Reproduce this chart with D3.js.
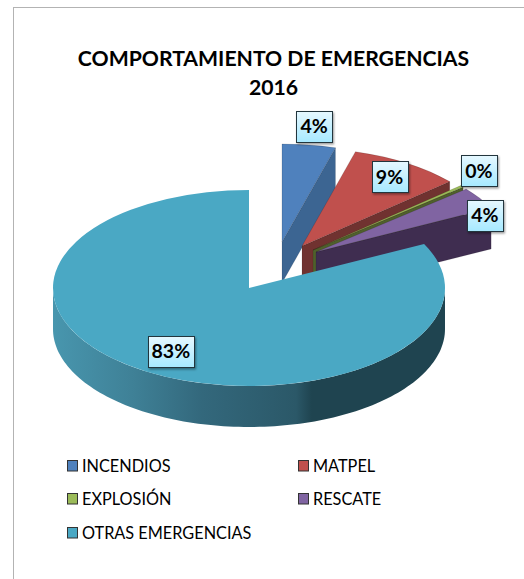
<!DOCTYPE html>
<html><head><meta charset="utf-8">
<script src="https://cdn.jsdelivr.net/npm/d3@7"></script>
<style>html,body{margin:0;padding:0;background:#fff}svg{display:block}text{font-family:Lato,"Open Sans",sans-serif}</style>
</head><body><div id="c"></div>
<script>
const categories=["INCENDIOS","MATPEL","EXPLOSIÓN","RESCATE","OTRAS EMERGENCIAS"];
const values=[4.4,9.2,0.3,3.7,82.5];
const titleLines=["COMPORTAMIENTO DE EMERGENCIAS","2016"];
const topColors=["#4f81bd","#c0504d","#9bbb59","#8064a2","#4aa8c4"];
const wallColors=["#3c6592","#703230","#4f5f2c","#3f2d50","#1f4450"];

const W=524,H=579,cx=249,cy=288,R=196,tilt=0.5,depth=41;
const explode=[[33,-46],[53,-42],[64,-38],[67,-36],[0,0]];
const labelR=[1.19,.834,1.167,.94,.76];
const labelNudge=[[0,0],[0,0],[-8,-5],[15,14],[0,0]];

const svg=d3.select("#c").append("svg").attr("width",W).attr("height",H);
const defs=svg.append("defs");
const lg=defs.append("linearGradient").attr("id","lab").attr("x1",0).attr("y1",0).attr("x2",0).attr("y2",1);
lg.append("stop").attr("offset",0).attr("stop-color","#e6f8ff");
lg.append("stop").attr("offset",1).attr("stop-color","#a6e9ff");
const wg=defs.append("linearGradient").attr("id","wall").attr("gradientUnits","userSpaceOnUse")
  .attr("x1",cx-R).attr("x2",cx+R).attr("y1",0).attr("y2",0);
[[0,"#4896ae"],[.2,"#3f8197"],[.38,"#33687c"],[.62,"#2b5868"],[.66,"#1f4450"],[1,"#1f4450"]]
  .forEach(s=>wg.append("stop").attr("offset",s[0]).attr("stop-color",s[1]));
const sh=defs.append("filter").attr("id","sh").attr("x","-20%").attr("y","-20%").attr("width","150%").attr("height","150%");
sh.append("feDropShadow").attr("dx",1).attr("dy",1.5).attr("stdDeviation",1).attr("flood-color","#000").attr("flood-opacity",.4);

svg.append("rect").attr("x",13.5).attr("y",7.5).attr("width",W+40).attr("height",H+40)
  .attr("fill","#fff").attr("stroke","#b3b3b3").attr("stroke-width",1);

svg.append("g").selectAll("text").data(titleLines).join("text")
  .attr("x",273.5).attr("y",(d,i)=>66+i*29).attr("text-anchor","middle")
  .attr("font-size",21.2).attr("font-weight",700).attr("fill","#000").text(d=>d);

const pie=d3.pie().sort(null).value(d=>d)(values);
const arc=d3.arc().innerRadius(0).outerRadius(R);
const pt=(a,r,o)=>[cx+o[0]+r*Math.sin(a),cy+o[1]-r*tilt*Math.cos(a)];
const line=d3.line();

const chart=svg.append("g");
pie.forEach((p,i)=>{
  const o=explode[i],g=chart.append("g");
  const A=pt(0,0,o),down=q=>[q[0],q[1]+depth];
  const wallPoly=a=>{const B=pt(a,R,o);return line([A,B,down(B),down(A)])+"Z";};
  if(i<4){
    g.append("path").attr("d",wallPoly(p.endAngle)).attr("fill",wallColors[i])
      .attr("stroke","#000").attr("stroke-opacity",.15).attr("stroke-width",.7);
  }
  const a0=Math.max(p.startAngle,Math.PI/2),a1=Math.min(p.endAngle,3*Math.PI/2);
  if(a1>a0){
    const ang=d3.range(0,121).map(k=>a0+(a1-a0)*k/120);
    const upper=ang.map(a=>pt(a,R,o)),lower=upper.map(down).reverse();
    g.append("path").attr("d",line(upper.concat(lower))+"Z").attr("fill","url(#wall)");
  }
  g.append("path").attr("d",arc(p))
    .attr("transform",`translate(${cx+o[0]},${cy+o[1]}) scale(1,${tilt})`)
    .attr("fill",topColors[i]).attr("stroke",i<4?"#000":"none").attr("stroke-opacity",.2)
    .attr("stroke-width",.7).attr("vector-effect","non-scaling-stroke");
});

const labels=svg.append("g");
pie.forEach((p,i)=>{
  const mid=(p.startAngle+p.endAngle)/2,c=pt(mid,R*labelR[i],explode[i]);
  const x=c[0]+labelNudge[i][0],y=c[1]+labelNudge[i][1];
  const txt=Math.round(values[i])+"%",w=txt.length>2?46:36,h=31;
  labels.append("rect").attr("x",Math.round(x-w/2)+.5).attr("y",Math.round(y-h/2)+.5).attr("width",w).attr("height",h)
    .attr("fill","url(#lab)").attr("stroke","#24343c").attr("stroke-width",1).attr("filter","url(#sh)");
  labels.append("text").attr("x",x).attr("y",y+7).attr("text-anchor","middle")
    .attr("font-size",19.5).attr("font-weight",700).attr("fill","#000").text(txt);
});

const legendX=[67,298],legendY=[465.5,498.5,532.5];
const leg=svg.append("g").selectAll("g").data(categories).join("g")
  .attr("transform",(d,i)=>`translate(${legendX[i%2]},${legendY[Math.floor(i/2)]})`);
leg.append("rect").attr("x",.5).attr("y",-5).attr("width",10).attr("height",10.5)
  .attr("fill",(d,i)=>topColors[i]).attr("stroke","#333").attr("stroke-width",1);
leg.append("text").attr("x",15).attr("y",6).attr("font-size",16.3).attr("fill","#000").text(d=>d);
</script></body></html>
